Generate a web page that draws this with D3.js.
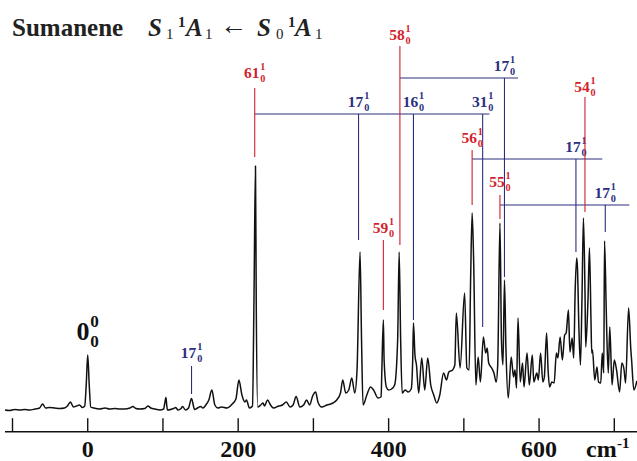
<!DOCTYPE html>
<html><head><meta charset="utf-8">
<script src="https://cdn.jsdelivr.net/npm/d3@7"></script>
<style>
body{margin:0;background:#fff}
svg{display:block}
text{font-family:"Liberation Serif","Times New Roman",serif}
</style>
</head><body>
<svg id="chart" width="637" height="461"></svg>
<script>
// ---------------- data ----------------
// spectrum trace: wavenumber (cm-1 relative to 0-0) and intensity (arb. units)
const wavenumber = [
 -110,-104,-97,-90,-84,-77,-70,-64,-60,-56,
 -51,-44,-37,-31,-27,-23,-19,-15,-11,-7,
 -4,-2,0,2,4,8,16,23,29,36,
 43,49,56,60,64,69,76,80,84,89,
 96,101,102,104,105,106,112,114,117,120,
 124,126,130,134,138,142,146,150,153,157,
 161,165,169,173,178,185,192,197,201,205,
 209,211,215,219,221,223,224,226,230,233,
 235,239,243,247,254,259,264,269,273,277,
 282,287,291,295,299,303,306,311,318,326,
 331,336,339,343,347,351,355,358,362,364,
 366,371,376,380,386,390,391,393,394,397,
 400,404,408,412,414,416,418,422,426,430,
 432,433,435,437,440,444,448,452,456,460,
 464,468,473,477,480,485,488,490,495,501,
 504,507,509,511,513,516,519,522,526,529,
 531,533,537,540,543,545,548,550,552,554,
 556,559,563,566,568,570,572,575,578,580,
 584,587,591,593,597,599,602,605,607,610,
 612,614,617,620,623,625,628,631,634,636,
 639,641,644,646,648,650,651,653,655,657,
 659,661,662,665,667,669,670,671,674,677,
 679,682,684,686,687,689,690,692,694,697,
 700,703,707,710,713,715,719,722,723,726,
 730
];
const intensity = [
 1,0.5,1.5,1,1.5,1,2,3,7,3,
 3.5,3,2.5,3,5,9,4,5,6,3.5,
 5,26,56,26,4,3,2,3,2,2.5,
 2,2,3,4.5,2.5,2,2.5,5,3,2,
 1,2,6,13.5,6,1,2,2.5,3.5,1,
 2.5,4.5,1,3,12.5,1.5,3,4.5,3,6,
 11,21,6,3,4,3,7,12,31,16,
 9,11,3,5,111,245,111,4,6,8,
 5,11,6,3,5,6,9,4,6,14.5,
 4,6,11,6,15,19,9,4,6,8,
 11,18,31,18,21,33,18,41,159,71,
 6,16,24,21,13,14,41,91,51,24,
 21,22,26,71,159,71,18,21,19,22,
 51,88,56,46,18,53,21,53,26,16,
 8,16,38,31,39,41,46,98,43,118,
 43,41,131,198,151,26,54,29,74,58,
 63,48,43,38,29,46,188,71,46,131,
 61,13,54,34,41,23,93,29,48,24,
 58,26,56,29,38,31,58,29,34,78,
 41,24,29,28,58,53,74,51,76,78,
 101,59,73,53,121,153,144,81,46,111,
 193,121,64,111,163,91,58,61,31,44,
 29,28,58,38,170,111,78,38,84,26,
 51,41,19,48,41,28,103,61,51,21,
 30
];
const axisTicks = [-100,0,100,200,300,400,500,600,700];
const axisTickLabels = [0,200,400,600];

// band assignments
const bandModes     = ["0","17","61","58","59","56","55","54"];
const bandPositions = [0, 138, 222, 415, 393, 511, 548, 661];
const bandGroups    = ["origin","blue","red","red","red","red","red","red"];
// combination bands (parent fundamental + 17 / 16 / 31)
const comboParents   = ["61","61","61","58","56","55"];
const comboModes     = ["17","16","31","17","17","17"];
const comboPositions = [360, 433, 525, 554, 649, 688];

// ---------------- layout (intensity units) ----------------
const bandLayout = {
  "0":  {label:71},
  "17": {label:53,  top:45,  bot:17},
  "61": {label:333, top:323, bot:254},
  "58": {label:371, top:365, bot:166},
  "59": {label:178, top:171, bot:101},
  "56": {label:268, top:261, bot:206},
  "55": {label:224, top:216, bot:192},
  "54": {label:319, top:314, bot:199}
};
const barLayout = {
  "61": {level:297, end:534},
  "58": {level:333, end:572},
  "56": {level:252, end:684},
  "55": {level:206, end:720}
};
const comboBottoms = [171, 91, 84, 134, 159, 179];

const RED = "#d21f2e", BLUE = "#2b2e7e";
const colorOf = {origin:"#111", blue:BLUE, red:RED};

// ---------------- drawing ----------------
const svg = d3.select("#chart");
const x = d3.scaleLinear().domain([-100, 700]).range([12.5, 614.3]);
const y = d3.scaleLinear().domain([0, 100]).range([411, 311]);
const axisY = 431.7;

// axis
svg.append("line").attr("x1",5).attr("x2",637).attr("y1",axisY).attr("y2",axisY)
  .attr("stroke","#111").attr("stroke-width",1.6);
svg.selectAll(".tick").data(axisTicks).enter().append("line")
  .attr("x1",d=>x(d)).attr("x2",d=>x(d)).attr("y1",axisY).attr("y2",axisY-13.5)
  .attr("stroke","#111").attr("stroke-width",1.4);
svg.selectAll(".tl").data(axisTickLabels).enter().append("text")
  .attr("x",d=>x(d)).attr("y",457).attr("text-anchor","middle")
  .attr("font-size",24).attr("font-weight","bold").attr("fill","#111").text(d=>d);
svg.append("text").attr("x",586).attr("y",457).attr("font-size",24)
  .attr("font-weight","bold").attr("fill","#111").text("cm");
svg.append("text").attr("x",617).attr("y",448).attr("font-size",15)
  .attr("font-weight","bold").attr("fill","#111").text("-1");

// spectrum
const pts = wavenumber.map((w,i)=>[w,intensity[i]]);
svg.append("path").datum(pts)
  .attr("d", d3.line().x(d=>x(d[0])).y(d=>y(d[1])).curve(d3.curveMonotoneX))
  .attr("fill","none").attr("stroke","#111").attr("stroke-width",1.5)
  .attr("stroke-linejoin","round");

// mode label helper: main digits with stacked sup/sub
function modeLabel(cx, by, mode, up, low, color, size){
  const g = svg.append("g");
  const main = g.append("text").attr("x",0).attr("y",0).attr("font-size",size)
    .attr("font-weight","bold").attr("fill",color).text(mode);
  const w1 = main.node().getComputedTextLength();
  const ss = size*0.66;
  const sup = g.append("text").attr("x",w1+0.8).attr("y",-size*0.5).attr("font-size",ss)
    .attr("font-weight","bold").attr("fill",color).text(up);
  const sub = g.append("text").attr("x",w1+0.8).attr("y",size*0.27).attr("font-size",ss)
    .attr("font-weight","bold").attr("fill",color).text(low);
  const w2 = Math.max(sup.node().getComputedTextLength(), sub.node().getComputedTextLength());
  const tw = w1+0.8+w2;
  g.attr("transform",`translate(${cx - tw/2},${by})`);
}
function vline(w, i1, i2, color){
  svg.append("line").attr("x1",x(w)).attr("x2",x(w)).attr("y1",y(i1)).attr("y2",y(i2))
    .attr("stroke",color).attr("stroke-width",1.1);
}

// progression bars
comboParents.forEach((p,i)=>{
  const L = barLayout[p];
  vline(comboPositions[i], L.level, comboBottoms[i], BLUE);
  modeLabel(x(comboPositions[i]), y(L.level+7), comboModes[i], "1", "0", BLUE, 15.5);
});
Object.keys(barLayout).forEach(p=>{
  const L = barLayout[p];
  const pos = bandPositions[bandModes.indexOf(p)];
  svg.append("line").attr("x1",x(pos)).attr("x2",x(L.end)).attr("y1",y(L.level)).attr("y2",y(L.level))
    .attr("stroke",BLUE).attr("stroke-width",1.1);
});

// fundamental / origin bands
bandModes.forEach((m,i)=>{
  const L = bandLayout[m];
  const col = colorOf[bandGroups[i]];
  if (m === "0"){
    modeLabel(x(bandPositions[i]), y(L.label), "0", "0", "0", col, 26);
  } else {
    vline(bandPositions[i], L.top, L.bot, col);
    modeLabel(x(bandPositions[i]), y(L.label), m, "1", "0", col, 15.5);
  }
});

// title
const T = (xx, yy, txt, size, opts={}) => svg.append("text").attr("x",xx).attr("y",yy)
  .attr("font-size",size).attr("font-weight",opts.w||"bold").attr("font-style",opts.s||"normal")
  .attr("font-family",opts.f||null).attr("fill","#222").text(txt);
T(12, 36, "Sumanene", 25);
T(148, 36, "S", 25, {s:"italic"});
T(166, 39, "1", 15, {w:"normal"});
T(178, 27, "1", 15);
T(186, 36, "A", 25, {s:"italic"});
T(205, 39, "1", 15, {w:"normal"});
T(220, 34, "\u2190", 27, {w:"normal", f:"DejaVu Sans"});
T(257, 36, "S", 25, {s:"italic"});
T(276, 39, "0", 15, {w:"normal"});
T(288, 27, "1", 15);
T(295, 36, "A", 25, {s:"italic"});
T(315, 39, "1", 15, {w:"normal"});
</script>
</body></html>
